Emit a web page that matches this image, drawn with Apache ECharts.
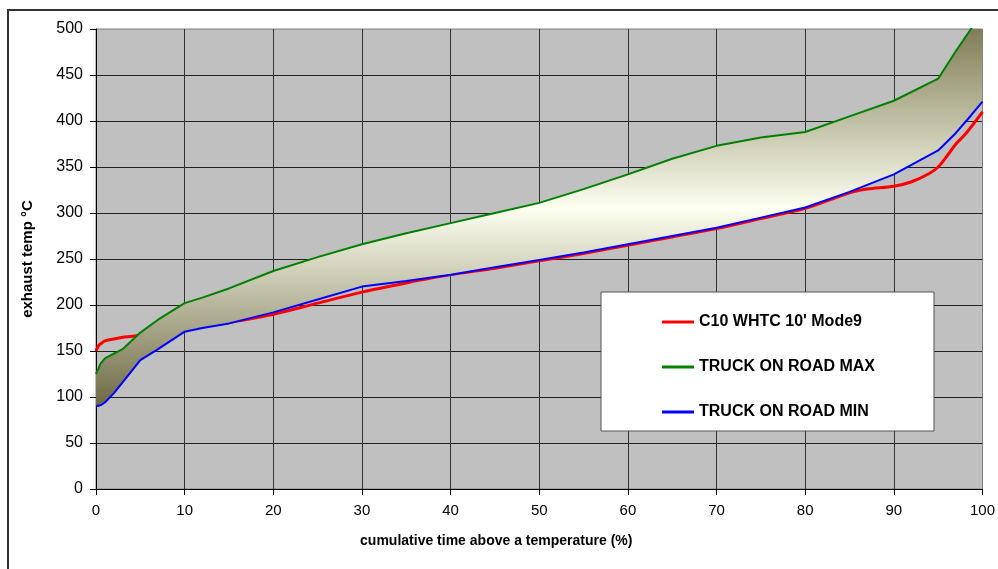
<!DOCTYPE html>
<html>
<head>
<meta charset="utf-8">
<title>exhaust temp</title>
<script src="https://cdn.jsdelivr.net/npm/echarts@6/dist/echarts.min.js"></script>
<style>
  html, body { margin: 0; padding: 0; background: #fff; }
  #chart { width: 998px; height: 569px; }
</style>
</head>
<body>
<div id="chart"></div>
<script>
// x positions shared by the two truck curves (cumulative time %)
var truckX = [0, 0.5, 1, 2, 3, 5, 7, 10, 12, 15, 20, 25, 30, 35, 40, 45, 50, 55, 60, 65, 70, 75, 80, 85, 90, 95, 97, 98.7, 100];
var truckMax = [125, 136, 142, 147, 152, 170, 184, 202, 208, 218, 237, 252, 266, 278, 289, 300, 311, 326, 342, 359, 373, 382, 388, 405, 422, 446, 476, 500, 520];
var truckMin = [90, 91, 94, 104, 116, 140, 152, 171, 175, 180, 192, 206, 220, 226, 233, 241, 249, 257, 266, 275, 284, 295, 306, 323, 342, 368, 387, 406, 421];

// C10 WHTC 10' Mode9
var whtcX = [0, 0.3, 0.7, 1, 2, 3, 5, 7, 10, 13, 15, 20, 25, 30, 35, 40, 45, 50, 55, 60, 65, 70, 75, 80, 85, 87, 90, 92, 94, 95, 96, 97, 98, 99, 100];
var whtcY = [150, 156, 159, 161, 163, 165, 167, 169, 173, 178, 181, 190, 202, 214, 224, 233, 240, 248, 256, 265, 274, 283, 294, 305, 322, 326, 329, 334, 343, 350, 362, 375, 385, 397, 410];

var seriesNames = ["C10 WHTC 10' Mode9", 'TRUCK ON ROAD MAX', 'TRUCK ON ROAD MIN'];

function pairs(xs, ys) {
  return xs.map(function (x, i) { return [x, ys[i]]; });
}

var chart = echarts.init(document.getElementById('chart'));

var font = '"Liberation Sans", Arial, sans-serif';
var splitY = [];
for (var i = 0; i < 10; i++) splitY.push('#222');
splitY.push('#999');
var splitX = [];
for (var j = 0; j < 10; j++) splitX.push('#333');
splitX.push('#808080');

// shaded band between truck max and min, built through the axes
function renderBand(params, api) {
  var pts = [];
  truckX.forEach(function (x, k) { pts.push(api.coord([x, truckMax[k]])); });
  for (var k = truckX.length - 1; k >= 0; k--) pts.push(api.coord([truckX[k], truckMin[k]]));
  var cs = params.coordSys;
  return {
    type: 'polygon',
    shape: { points: pts },
    style: {
      fill: new echarts.graphic.LinearGradient(0, 0, 0, 1, [
        { offset: 0, color: '#737046' },
        { offset: 0.5, color: '#fdfff0' },
        { offset: 1, color: '#6e6a45' }
      ])
    },
    clipPath: { type: 'rect', shape: { x: cs.x, y: cs.y, width: cs.width, height: cs.height } }
  };
}

chart.setOption({
  animation: false,
  textStyle: { fontFamily: font },
  graphic: [
    {
      type: 'rect',
      shape: { x: 8, y: 10, width: 1200, height: 800 },
      style: { fill: 'none', stroke: '#333', lineWidth: 2 },
      z: -10
    },
    {
      type: 'rect',
      shape: { x: 601, y: 292, width: 333, height: 139 },
      style: { fill: '#fff', stroke: '#555', lineWidth: 1 },
      z: 50
    }
  ],
  grid: {
    left: 96,
    right: 13,
    top: 29,
    bottom: 80,
    show: true,
    backgroundColor: '#c0c0c0',
    borderColor: '#808080',
    borderWidth: 1
  },
  legend: {
    data: seriesNames,
    orient: 'vertical',
    left: 657,
    top: 308,
    itemWidth: 32,
    itemHeight: 18,
    itemGap: 27,
    icon: 'path://M0,8 L32,8 L32,11 L0,11 Z',
    selectedMode: false,
    z: 60,
    textStyle: {
      fontFamily: font,
      fontSize: 16,
      fontWeight: 'bold',
      color: '#000',
      lineHeight: 18
    }
  },
  xAxis: {
    type: 'value',
    min: 0,
    max: 100,
    interval: 10,
    name: 'cumulative time above a temperature (%)',
    nameLocation: 'middle',
    nameGap: 45,
    nameTextStyle: {
      fontFamily: font,
      fontSize: 14,
      fontWeight: 'bold',
      color: '#000',
      padding: [0, 86, 0, 0]
    },
    axisLine: { onZero: false, lineStyle: { color: '#000', width: 1 } },
    axisTick: { show: true, length: 6, lineStyle: { color: '#000' } },
    axisLabel: { color: '#000', fontSize: 15, margin: 14 },
    splitLine: { show: true, lineStyle: { color: splitX, width: 1 } }
  },
  yAxis: {
    type: 'value',
    min: 0,
    max: 500,
    interval: 50,
    name: 'exhaust temp °C',
    nameLocation: 'middle',
    nameGap: 61,
    nameTextStyle: {
      fontFamily: font,
      fontSize: 15,
      fontWeight: 'bold',
      color: '#000'
    },
    axisLine: { show: true, lineStyle: { color: '#000', width: 1 } },
    axisTick: { show: true, length: 6, lineStyle: { color: '#000' } },
    axisLabel: { color: '#000', fontSize: 16, margin: 13 },
    splitLine: { show: true, lineStyle: { color: splitY, width: 1 } }
  },
  series: [
    {
      name: seriesNames[0],
      type: 'line',
      z: 1,
      smooth: 0.3,
      symbol: 'none',
      data: pairs(whtcX, whtcY),
      lineStyle: { color: '#ff0000', width: 3 },
      itemStyle: { color: '#ff0000' }
    },
    {
      name: 'band',
      type: 'custom',
      z: 2,
      silent: true,
      renderItem: renderBand,
      data: [[0, 0]]
    },
    {
      name: seriesNames[1],
      type: 'line',
      z: 3,
      symbol: 'none',
      data: pairs(truckX, truckMax),
      lineStyle: { color: '#008000', width: 2 },
      itemStyle: { color: '#008000' }
    },
    {
      name: seriesNames[2],
      type: 'line',
      z: 3,
      symbol: 'none',
      data: pairs(truckX, truckMin),
      lineStyle: { color: '#0000ff', width: 2 },
      itemStyle: { color: '#0000ff' }
    }
  ]
});
</script>
</body>
</html>
